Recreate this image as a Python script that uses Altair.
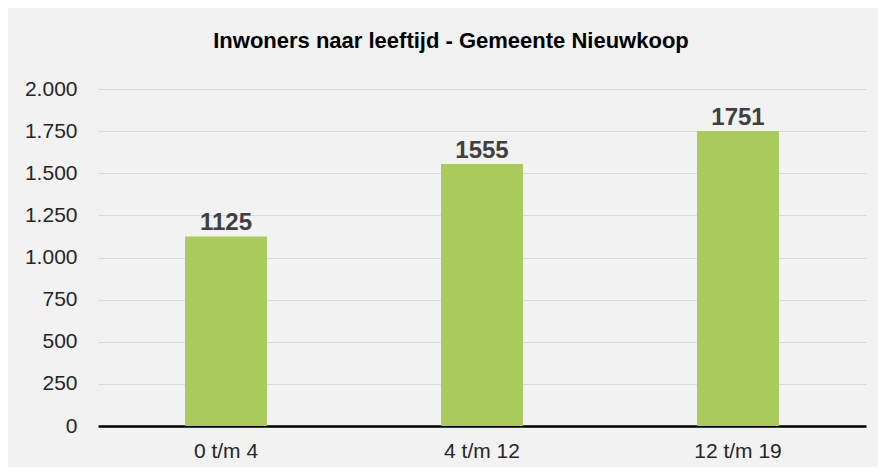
import altair as alt
import pandas as pd

categories = ["0 t/m 4", "4 t/m 12", "12 t/m 19"]
values = [1125, 1555, 1751]
y_ticks = [0, 250, 500, 750, 1000, 1250, 1500, 1750, 2000]

df = pd.DataFrame({"cat": categories, "val": values})

FONT = "Liberation Sans"
x = alt.X("cat:N", sort=categories, title=None,
          scale=alt.Scale(paddingInner=0.68, paddingOuter=0.34),
          axis=alt.Axis(labelAngle=0, labelFont=FONT, labelFontSize=21, labelColor="#262626",
                        domainColor="#000000", domainWidth=2.5, ticks=False, labelPadding=14,
                        grid=False))
y = alt.Y("val:Q", title=None,
          scale=alt.Scale(domain=[0, 2000], nice=False),
          axis=alt.Axis(values=y_ticks, labelFont=FONT, labelFontSize=21, labelColor="#262626",
                        labelExpr="replace(format(datum.value, ','), ',', '.')",
                        domain=False, ticks=False, labelPadding=21,
                        gridColor="#d9d9d9", gridWidth=1))

bars = alt.Chart(df).mark_bar(color="#a9cb5b").encode(x=x, y=y)
labels = alt.Chart(df).mark_text(baseline="alphabetic", dy=-6, font=FONT, fontSize=24,
                                 fontWeight="bold", color="#404040").encode(
    x=alt.X("cat:N", sort=categories), y="val:Q", text="val:Q")

chart = alt.layer(bars, labels).properties(
    width=768, height=337,
    background="#f2f2f2",
    padding={"left": 90, "top": 81, "right": 12, "bottom": 41},
    autosize=alt.AutoSizeParams(type="none"),
    title=alt.TitleParams("Inwoners naar leeftijd - Gemeente Nieuwkoop", font=FONT,
                          fontSize=22, fontWeight="bold", color="#000000",
                          anchor="middle", dx=-31, offset=25),
).configure_view(stroke=None)

chart.save("out.html", embed_options={"renderer": "svg", "actions": False})
